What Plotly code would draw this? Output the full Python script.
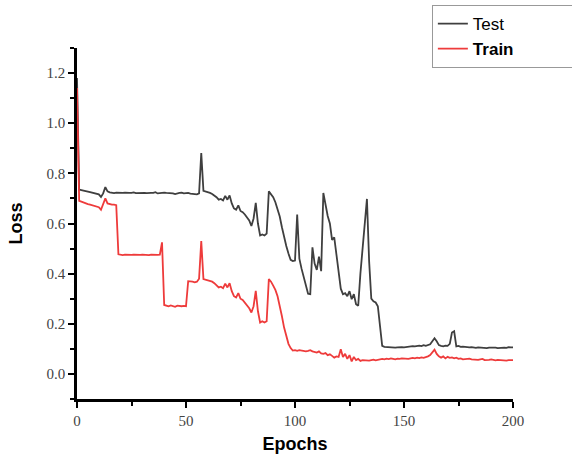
import plotly.graph_objects as go

epochs = list(range(0, 201))

test_loss = [
    1.18, 0.735, 0.733, 0.730, 0.728, 0.727, 0.725, 0.722, 0.720, 0.718,
    0.716, 0.706, 0.720, 0.745, 0.728, 0.724, 0.722, 0.721, 0.723, 0.722,
    0.720, 0.722, 0.723, 0.721, 0.722, 0.722, 0.724, 0.721, 0.722, 0.720,
    0.723, 0.722, 0.721, 0.723, 0.722, 0.722, 0.725, 0.720, 0.722, 0.721,
    0.723, 0.722, 0.721, 0.722, 0.720, 0.717, 0.721, 0.722, 0.723, 0.720,
    0.721, 0.722, 0.719, 0.717, 0.716, 0.716, 0.720, 0.881, 0.730, 0.728,
    0.727, 0.722, 0.718, 0.712, 0.705, 0.695, 0.698, 0.692, 0.710, 0.695,
    0.712, 0.680, 0.660, 0.655, 0.672, 0.650, 0.645, 0.636, 0.625, 0.612,
    0.590, 0.620, 0.682, 0.600, 0.552, 0.556, 0.552, 0.560, 0.728, 0.718,
    0.705, 0.685, 0.660, 0.628, 0.585, 0.540, 0.510, 0.480, 0.455, 0.450,
    0.452, 0.636, 0.460, 0.420, 0.390, 0.350, 0.320, 0.318, 0.505, 0.440,
    0.415, 0.468, 0.410, 0.722, 0.670, 0.630, 0.600, 0.535, 0.545, 0.470,
    0.400, 0.340, 0.318, 0.322, 0.310, 0.330, 0.298, 0.318, 0.278, 0.272,
    0.400, 0.500, 0.600, 0.698, 0.450, 0.300, 0.290, 0.285, 0.270, 0.190,
    0.112, 0.108, 0.107, 0.106, 0.108, 0.107, 0.105, 0.106, 0.108, 0.107,
    0.106, 0.108, 0.110, 0.109, 0.111, 0.110, 0.112, 0.113, 0.111, 0.115,
    0.112, 0.114, 0.118, 0.130, 0.142, 0.130, 0.115, 0.112, 0.110, 0.113,
    0.112, 0.120, 0.165, 0.170, 0.110, 0.112, 0.108, 0.109, 0.107, 0.108,
    0.106, 0.107, 0.105, 0.104, 0.106, 0.105, 0.107, 0.104, 0.103, 0.105,
    0.106, 0.104, 0.105, 0.103, 0.104, 0.106, 0.105, 0.104, 0.107, 0.106,
    0.106,
]

train_loss = [
    1.14, 0.690, 0.687, 0.683, 0.680, 0.677, 0.675, 0.672, 0.670, 0.668,
    0.665, 0.655, 0.675, 0.700, 0.680, 0.676, 0.675, 0.675, 0.673, 0.477,
    0.475, 0.474, 0.476, 0.475, 0.474, 0.475, 0.476, 0.475, 0.474, 0.475,
    0.476, 0.475, 0.475, 0.474, 0.476, 0.475, 0.474, 0.475, 0.476, 0.525,
    0.275, 0.272, 0.270, 0.273, 0.270, 0.268, 0.272, 0.270, 0.270, 0.271,
    0.270, 0.370, 0.370, 0.368, 0.365, 0.368, 0.380, 0.530, 0.378, 0.376,
    0.375, 0.372, 0.368, 0.362, 0.355, 0.345, 0.348, 0.342, 0.360, 0.345,
    0.362, 0.330, 0.310, 0.305, 0.322, 0.300, 0.295, 0.285, 0.275, 0.262,
    0.245, 0.270, 0.331, 0.250, 0.205, 0.210, 0.205, 0.210, 0.378, 0.368,
    0.352, 0.335, 0.310, 0.275, 0.230, 0.185, 0.155, 0.120, 0.103, 0.093,
    0.095, 0.092, 0.095, 0.093, 0.094, 0.090, 0.092, 0.095, 0.090, 0.088,
    0.085, 0.090, 0.082, 0.080, 0.083, 0.075, 0.078, 0.072, 0.065, 0.070,
    0.068, 0.098, 0.068, 0.080, 0.060, 0.075, 0.050, 0.068, 0.055, 0.060,
    0.052, 0.055, 0.054, 0.056, 0.053, 0.055, 0.057, 0.054, 0.056, 0.058,
    0.060, 0.058, 0.061, 0.059, 0.062, 0.060, 0.058, 0.061, 0.060, 0.062,
    0.061, 0.063, 0.060, 0.062, 0.064, 0.062, 0.065, 0.063, 0.066, 0.064,
    0.066, 0.070, 0.075, 0.085, 0.097, 0.080, 0.070, 0.065, 0.070, 0.062,
    0.068, 0.064, 0.066, 0.062, 0.065, 0.060, 0.062, 0.058, 0.060, 0.059,
    0.061, 0.058, 0.057, 0.059, 0.056, 0.058, 0.060, 0.055, 0.054, 0.056,
    0.058, 0.055, 0.054, 0.056, 0.055, 0.057, 0.054, 0.053, 0.055, 0.056,
    0.055,
]

series_names = ["Test", "<b>Train</b>"]
series_colors = ["#3f3f3f", "#ee3b3b"]

pad = "\u00a0" * 12  # widen legend box to the right like the reference

fig = go.Figure()
for name, ys, col in zip(series_names, [test_loss, train_loss], series_colors):
    fig.add_trace(go.Scatter(x=epochs, y=ys, mode="lines", name=name + pad,
                             line=dict(color=col, width=1.8)))

tick_font = dict(family="Liberation Serif, DejaVu Serif, serif", size=15, color="#444444")
title_font = dict(family="Liberation Sans, Arial, sans-serif", size=18, color="#000000")

fig.update_layout(
    width=572, height=454,
    margin=dict(l=77, r=59, t=48, b=55, autoexpand=False),
    paper_bgcolor="white", plot_bgcolor="white",
    showlegend=True,
    legend=dict(x=0.755, y=0.989, xref="container", yref="container",
                xanchor="left", yanchor="top",
                bordercolor="#999999", borderwidth=1, bgcolor="white",
                font=dict(family="Liberation Sans, Arial, sans-serif", size=17, color="#000000"),
                tracegroupgap=0, itemwidth=30),
    xaxis=dict(range=[0, 200], tickvals=[0, 50, 100, 150, 200],
               showgrid=False, zeroline=False, automargin=False,
               showline=True, linecolor="black", linewidth=2.5,
               ticks="outside", ticklen=6, tickwidth=2, tickcolor="black",
               minor=dict(tickvals=[25, 75, 125, 175], ticks="outside", ticklen=4, tickwidth=2, tickcolor="black"),
               tickfont=tick_font,
               title=dict(text="<b>Epochs</b>", font=title_font, standoff=10)),
    yaxis=dict(range=[-0.1, 1.3], tickvals=[0.0, 0.2, 0.4, 0.6, 0.8, 1.0, 1.2],
               tickformat=".1f",
               showgrid=False, zeroline=False, automargin=False,
               showline=True, linecolor="black", linewidth=2.5,
               ticks="outside", ticklen=6, tickwidth=2, tickcolor="black",
               minor=dict(tickvals=[-0.1, 0.1, 0.3, 0.5, 0.7, 0.9, 1.1, 1.3], ticks="outside", ticklen=4, tickwidth=2, tickcolor="black"),
               tickfont=tick_font,
               title=dict(text="<b>Loss</b>", font=title_font, standoff=20)),
)

fig.write_html("out.html")
